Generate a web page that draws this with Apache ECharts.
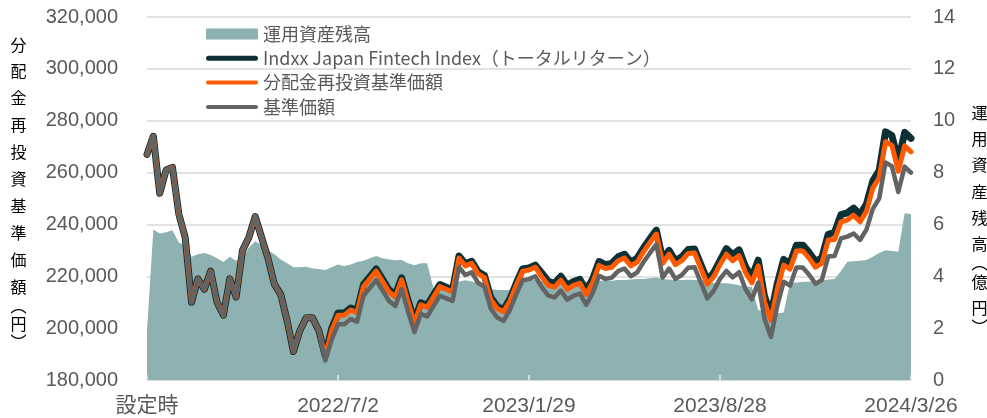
<!DOCTYPE html>
<html lang="ja">
<head>
<meta charset="utf-8">
<title>基準価額・運用資産残高の推移</title>
<script src="https://cdn.jsdelivr.net/npm/echarts/dist/echarts.min.js"></script>
<style>
  html, body { margin: 0; padding: 0; background: #ffffff; }
  #chart { width: 987px; height: 418px; }
</style>
</head>
<body>
<div id="chart"></div>
<script>
// x-axis tick labels, one every 30 observations
const tickLabels = ['設定時', '2022/7/2', '2023/1/29', '2023/8/28', '2024/3/26'];
const tickStep = 30;

const seriesNames = [
  '運用資産残高',
  'Indxx Japan Fintech Index（トータルリターン）',
  '分配金再投資基準価額',
  '基準価額'
];

// 運用資産残高（億円）
const aum = [
  1.9, 5.8, 5.65, 5.7, 5.78, 5.3, 5.2, 4.75, 4.85, 4.9,
  4.82, 4.7, 4.55, 4.75, 4.6, 4.75, 5.1, 5.35, 5.2, 5.0,
  4.85, 4.65, 4.5, 4.35, 4.35, 4.37, 4.3, 4.28, 4.24, 4.35,
  4.45, 4.4, 4.45, 4.55, 4.6, 4.7, 4.78, 4.7, 4.65, 4.62,
  4.63, 4.5, 4.43, 4.5, 4.5, 3.54, 3.5, 3.5, 3.5, 3.8,
  3.85, 3.8, 3.75, 3.65, 3.5, 3.47, 3.47, 3.47, 3.47, 3.8,
  3.86, 3.86, 3.82, 3.78, 3.75, 3.73, 3.75, 3.78, 3.8, 3.79,
  3.8, 3.82, 3.85, 3.83, 3.86, 3.86, 3.88, 3.9, 3.9, 3.92,
  3.95, 3.9, 3.88, 3.86, 3.86, 3.87, 3.86, 3.86, 3.8, 3.75,
  3.73, 3.73, 3.7, 3.65, 3.6, 3.6, 2.7, 2.62, 2.57, 2.57,
  2.6, 3.75, 3.76, 3.78, 3.8, 3.79, 3.83, 3.88, 3.9, 4.2,
  4.56, 4.58, 4.6, 4.63, 4.75, 4.9, 5.0, 4.98, 4.95, 6.43,
  6.4
];

// Indxx Japan Fintech Index（トータルリターン）, 円換算
const indexTR = [
  267000, 274000, 252000, 261000, 262000, 244000, 235000, 210000, 219000, 215000,
  222000, 210000, 205000, 219000, 212000, 230000, 235000, 243000, 235000, 227000,
  217000, 213000, 203000, 191000, 199000, 204000, 204000, 199000, 189300, 199800,
  205800, 205800, 207800, 206800, 216800, 219800, 222800, 218800, 214800, 212800,
  219400, 210800, 202800, 209800, 208800, 212800, 216800, 215800, 214800, 227800,
  224800, 225800, 221800, 220300, 211800, 208400, 207100, 211300, 217300, 222800,
  223200, 224300, 221300, 218100, 217300, 220000, 216500, 218000, 218800, 214500,
  219000, 225700, 224500, 225000, 227500, 228500, 225500, 227000, 231000, 234500,
  237800, 226500, 230000, 226000, 227500, 230300, 230500, 224500, 218500, 221300,
  226000, 230700, 228200, 230200, 223700, 219700, 226200, 212200, 205200, 217200,
  226500, 225000, 232000, 232000, 229200, 225700, 227200, 236200, 237000, 243800,
  244500, 246300, 243800, 247800, 256800, 260800, 275700, 274300, 264300, 275500,
  273200
];

// 分配金再投資基準価額（円）
const navReinvested = [
  267000, 274000, 252000, 261000, 262000, 244000, 235000, 210000, 219000, 215000,
  222000, 210000, 205000, 219000, 212000, 230000, 235000, 243000, 235000, 227000,
  217000, 213000, 203000, 191000, 199000, 204000, 204000, 199000, 189000, 199000,
  205000, 205000, 207000, 206000, 216000, 219000, 222000, 218000, 214000, 212000,
  218600, 210000, 202000, 209000, 208000, 212000, 216000, 215000, 214000, 227000,
  224000, 225000, 221000, 219500, 211000, 207600, 206300, 210500, 216500, 222000,
  222400, 223500, 219800, 216600, 215800, 218500, 215000, 216500, 217300, 213000,
  217500, 224200, 223000, 223500, 226000, 227000, 224000, 225500, 229500, 233000,
  236300, 225000, 228500, 224500, 226000, 228800, 229000, 223000, 217000, 219800,
  224500, 228500, 226000, 228000, 221500, 217500, 224000, 210000, 203000, 215000,
  224300, 222800, 229800, 229800, 227000, 223500, 225000, 234000, 234200, 241000,
  241700, 243500, 241000, 245000, 254000, 258000, 271900, 270500, 260500, 270300,
  268000
];

// 基準価額（円）
const nav = [
  267000, 274000, 252000, 261000, 262000, 244000, 235000, 210000, 219000, 215000,
  222000, 210000, 205000, 219000, 212000, 230000, 235000, 243000, 235000, 227000,
  217000, 213000, 203000, 191000, 199000, 204000, 204000, 199000, 187500, 195500,
  201500, 201500, 203500, 202500, 212500, 215500, 218500, 214500, 210500, 208500,
  215100, 206500, 198500, 205500, 204500, 208500, 212500, 211500, 210500, 223500,
  220500, 221500, 217500, 216000, 207500, 204100, 202800, 207000, 213000, 218500,
  218900, 220000, 215800, 212600, 211800, 214500, 211000, 212500, 213300, 209000,
  213500, 220200, 219000, 219500, 222000, 223000, 220000, 221500, 225500, 229000,
  232300, 219500, 223000, 219000, 220500, 223300, 223500, 217500, 211500, 214300,
  219000, 222100, 219600, 221600, 215100, 211100, 217600, 203600, 196600, 208600,
  217900, 216400, 223400, 223400, 220600, 217100, 218600, 227600, 227800, 234600,
  235300, 236500, 234000, 238000, 246000, 250000, 263900, 262500, 252500, 262300,
  260000
];

const COLORS = {
  aum: '#8EB1B1',
  index: '#0D3035',
  reinvested: '#FF5A00',
  nav: '#636363',
  text: '#595959',
  grid: '#D9D9D9'
};

const LATIN_FONT = '"Liberation Sans", Arial, "Noto Sans CJK JP", sans-serif';
const CJK_FONT = '"Noto Sans CJK JP", "Noto Sans", sans-serif';

// pair each value with its observation number on the x axis
const toPoints = arr => arr.map((v, i) => [i, v]);

// rounded bar used as a legend swatch for the line series
const barIcon = h => {
  const r = h / 2;
  return `path://M${r},0 L${52 - r},0 A${r},${r} 0 0 1 ${52 - r},${h} L${r},${h} A${r},${r} 0 0 1 ${r},0 Z`;
};

const chart = echarts.init(document.getElementById('chart'), null, { renderer: 'canvas' });

chart.setOption({
  animation: false,
  backgroundColor: '#ffffff',
  textStyle: { fontFamily: LATIN_FONT },
  grid: { left: 147, right: 76, top: 17, bottom: 38 },
  legend: {
    orient: 'vertical',
    left: 206,
    top: 24,
    padding: 0,
    itemWidth: 52,
    itemHeight: 11,
    itemGap: 4.3,
    selectedMode: false,
    itemStyle: { borderWidth: 0 },
    textStyle: { fontFamily: CJK_FONT, fontSize: 18, color: COLORS.text, lineHeight: 20 },
    data: [
      { name: seriesNames[0], icon: 'rect' },
      { name: seriesNames[1], icon: barIcon(5) },
      { name: seriesNames[2], icon: barIcon(4) },
      { name: seriesNames[3], icon: barIcon(4) }
    ]
  },
  xAxis: {
    type: 'value',
    z: 5,
    min: 0,
    max: (tickLabels.length - 1) * tickStep,
    interval: tickStep,
    axisLine: { show: true, lineStyle: { color: COLORS.grid, width: 1 } },
    axisTick: { show: true, inside: true, length: 5, lineStyle: { color: '#EDEDED', width: 1.5 } },
    splitLine: { show: false },
    axisLabel: {
      show: true,
      margin: 16,
      fontSize: 21,
      color: COLORS.text,
      fontFamily: LATIN_FONT,
      showMinLabel: true,
      showMaxLabel: true,
      formatter: v => tickLabels[Math.round(v / tickStep)] || ''
    }
  },
  yAxis: [
    {
      type: 'value',
      position: 'left',
      min: 180000,
      max: 320000,
      interval: 20000,
      axisLine: { show: false },
      axisTick: { show: false },
      splitLine: { show: true, lineStyle: { color: COLORS.grid, width: 1.5 } },
      axisLabel: {
        margin: 29,
        fontSize: 20,
        color: COLORS.text,
        fontFamily: LATIN_FONT,
        formatter: v => v.toLocaleString('en-US')
      }
    },
    {
      type: 'value',
      position: 'right',
      min: 0,
      max: 14,
      interval: 2,
      axisLine: { show: false },
      axisTick: { show: false },
      splitLine: { show: false },
      axisLabel: {
        margin: 22,
        fontSize: 20,
        color: COLORS.text,
        fontFamily: LATIN_FONT
      }
    }
  ],
  series: [
    {
      name: seriesNames[0],
      type: 'line',
      yAxisIndex: 1,
      data: toPoints(aum),
      color: COLORS.aum,
      symbol: 'none',
      lineStyle: { width: 0, color: COLORS.aum },
      areaStyle: { color: COLORS.aum, opacity: 1 },
      emphasis: { disabled: true }
    },
    {
      name: seriesNames[1],
      type: 'line',
      yAxisIndex: 0,
      data: toPoints(indexTR),
      color: COLORS.index,
      symbol: 'none',
      lineStyle: { width: 7, color: COLORS.index, cap: 'round', join: 'round' },
      emphasis: { disabled: true }
    },
    {
      name: seriesNames[2],
      type: 'line',
      yAxisIndex: 0,
      data: toPoints(navReinvested),
      color: COLORS.reinvested,
      symbol: 'none',
      lineStyle: { width: 5, color: COLORS.reinvested, cap: 'round', join: 'round' },
      emphasis: { disabled: true }
    },
    {
      name: seriesNames[3],
      type: 'line',
      yAxisIndex: 0,
      data: toPoints(nav),
      color: COLORS.nav,
      symbol: 'none',
      lineStyle: { width: 4.5, color: COLORS.nav, cap: 'round', join: 'round' },
      emphasis: { disabled: true }
    }
  ],
  graphic: [
    {
      // left axis title, written top to bottom
      type: 'text',
      left: 10,
      top: 36.5,
      silent: true,
      style: {
        text: [
          '{c|分}', '{c|配}', '{c|金}', '{c|再}', '{c|投}', '{c|資}', '{c|基}',
          '{c|準}', '{c|価}', '{c|額}', '{p|︵}', '{m|円}', '{p|︶}'
        ].join('\n'),
        align: 'left',
        rich: {
          c: { fontFamily: CJK_FONT, fontSize: 16, lineHeight: 26.9, color: COLORS.text, align: 'center', width: 17 },
          m: { fontFamily: CJK_FONT, fontSize: 16, lineHeight: 24, color: COLORS.text, align: 'center', width: 17 },
          p: { fontFamily: CJK_FONT, fontSize: 16, lineHeight: 12, color: COLORS.text, align: 'center', width: 17 }
        }
      }
    },
    {
      // right axis title, written top to bottom
      type: 'text',
      left: 971,
      top: 105,
      silent: true,
      style: {
        text: [
          '{c|運}', '{c|用}', '{c|資}', '{c|産}', '{c|残}', '{c|高}',
          '{p|︵}', '{m|億}', '{m|円}', '{p|︶}'
        ].join('\n'),
        align: 'left',
        rich: {
          c: { fontFamily: CJK_FONT, fontSize: 16, lineHeight: 26.2, color: COLORS.text, align: 'center', width: 17 },
          m: { fontFamily: CJK_FONT, fontSize: 16, lineHeight: 26, color: COLORS.text, align: 'center', width: 17 },
          p: { fontFamily: CJK_FONT, fontSize: 16, lineHeight: 12, color: COLORS.text, align: 'center', width: 17 }
        }
      }
    }
  ]
});
</script>
</body>
</html>
